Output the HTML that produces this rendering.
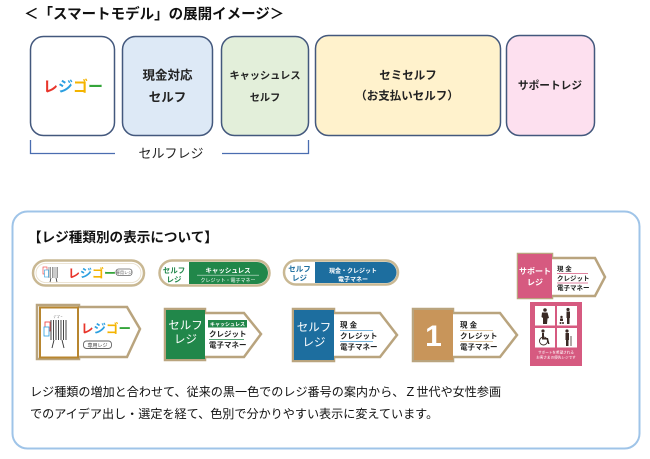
<!DOCTYPE html>
<html><head><meta charset="utf-8">
<style>
html,body{margin:0;padding:0;background:#fff;}
body{width:650px;height:459px;overflow:hidden;}
svg{display:block;}
text{font-family:"Liberation Sans","Noto Sans CJK JP",sans-serif;}
.b{font-weight:bold;}
</style></head>
<body>
<svg width="650" height="459" viewBox="0 0 650 459" xmlns="http://www.w3.org/2000/svg">
<!-- Title -->
<text x="24" y="19" font-size="14.5" class="b" fill="#111">＜「スマートモデル」の展開イメージ＞</text>

<!-- Top boxes -->
<rect x="30.5" y="36.5" width="84" height="99" rx="13" fill="#fff" stroke="#43587d" stroke-width="1.5"/>
<rect x="122.5" y="36.5" width="90" height="99" rx="13" fill="#dde9f6" stroke="#43587d" stroke-width="1.5"/>
<rect x="221.5" y="36.5" width="87" height="99" rx="13" fill="#e3efda" stroke="#43587d" stroke-width="1.5"/>
<rect x="315.5" y="35.5" width="185" height="100" rx="13" fill="#fff2cc" stroke="#43587d" stroke-width="1.5"/>
<rect x="506.5" y="35.5" width="88" height="100" rx="13" fill="#fde0ef" stroke="#43587d" stroke-width="1.5"/>

<text x="73" y="91.5" font-size="15" class="b" text-anchor="middle"><tspan fill="#e8352b">レ</tspan><tspan fill="#2b9fe0">ジ</tspan><tspan fill="#f4b400">ゴ</tspan><tspan fill="#34a53a">ー</tspan></text>
<text x="167.5" y="79.5" font-size="12.5" class="b" text-anchor="middle" fill="#222">現金対応</text>
<text x="167.5" y="101.5" font-size="12.5" class="b" text-anchor="middle" fill="#222">セルフ</text>
<text x="265" y="79" font-size="10.2" class="b" text-anchor="middle" fill="#222">キャッシュレス</text>
<text x="265" y="101" font-size="10.2" class="b" text-anchor="middle" fill="#222">セルフ</text>
<text x="408" y="79" font-size="11.5" class="b" text-anchor="middle" fill="#222">セミセルフ</text>
<text x="407" y="99.5" font-size="11.5" class="b" text-anchor="middle" fill="#222">（お支払いセルフ）</text>
<text x="550" y="89" font-size="10.7" class="b" text-anchor="middle" fill="#222">サポートレジ</text>

<!-- bracket -->
<path d="M30.5,140 V153.5 H115" fill="none" stroke="#4a6db0" stroke-width="1.3"/>
<path d="M222,153.5 H308.5 V140" fill="none" stroke="#4a6db0" stroke-width="1.3"/>
<text x="171" y="158" font-size="13" text-anchor="middle" fill="#222">セルフレジ</text>

<!-- Lower panel -->
<rect x="12.5" y="211.5" width="627" height="237" rx="15" fill="#fff" stroke="#9fc4e8" stroke-width="2"/>
<text x="28" y="242" font-size="13.6" class="b" fill="#111">【レジ種類別の表示について】</text>

<!-- Pill 1 -->
<rect x="33" y="260.5" width="111" height="25" rx="12.5" fill="#fff" stroke="#c9b893" stroke-width="2.5"/>
<rect x="36" y="263.5" width="105" height="19" rx="9.5" fill="none" stroke="#e6dcc6" stroke-width="0.8"/>
<g stroke="#333" stroke-width="0.5">
<path d="M49,267 V278 M50.5,267 V278 M52.5,267 V278 M54,267 V278 M56,267 V278 M57.5,267 V278"/>
<path d="M51,278 L50,282 M56,278 L57,282" stroke-width="0.8"/>
</g>
<rect x="43" y="267" width="4" height="7" fill="#fff" stroke="#e33" stroke-width="0.6"/>
<rect x="44.5" y="270" width="4" height="7" fill="#fff" stroke="#2b9fe0" stroke-width="0.6"/>
<text x="92" y="277.5" font-size="12" class="b" text-anchor="middle"><tspan fill="#e8352b">レ</tspan><tspan fill="#2b9fe0">ジ</tspan><tspan fill="#f4b400">ゴ</tspan><tspan fill="#34a53a">ー</tspan></text>
<rect x="116" y="269" width="16" height="6.5" rx="2.5" fill="#fff" stroke="#666" stroke-width="0.8"/>
<text x="124" y="274.2" font-size="4" text-anchor="middle" fill="#555">専用レジ</text>

<!-- Pill 2 -->
<rect x="159.5" y="260.5" width="110" height="25" rx="12.5" fill="#fff" stroke="#c9b893" stroke-width="2.5"/>
<path d="M189,262 H257 A11,11 0 0 1 257,284 H189 Z" fill="#21874a"/>
<text x="174" y="273" font-size="7.5" text-anchor="middle" fill="#21874a" class="b">セルフ</text>
<text x="174" y="282" font-size="7.5" text-anchor="middle" fill="#21874a" class="b">レジ</text>
<text x="228" y="272.5" font-size="6.5" text-anchor="middle" fill="#fff" class="b">キャッシュレス</text>
<path d="M197,275.2 H259" stroke="#cfe6d6" stroke-width="0.6"/>
<text x="228" y="282" font-size="5" text-anchor="middle" fill="#fff">クレジット・電子マネー</text>

<!-- Pill 3 -->
<rect x="284" y="260.5" width="114" height="24" rx="12" fill="#fff" stroke="#c9b893" stroke-width="2.5"/>
<path d="M315,262 H386 A10.5,10.5 0 0 1 386,283 H315 Z" fill="#1d6e9f"/>
<text x="299.5" y="271.5" font-size="7.5" text-anchor="middle" fill="#1d6e9f" class="b">セルフ</text>
<text x="299.5" y="280.5" font-size="7.5" text-anchor="middle" fill="#1d6e9f" class="b">レジ</text>
<text x="353" y="273" font-size="6" text-anchor="middle" fill="#fff" class="b">現金・クレジット</text>
<text x="353" y="281.5" font-size="6" text-anchor="middle" fill="#fff" class="b">電子マネー</text>

<!-- Support sign -->
<path d="M518,254 H552 V258 H595 L605,277 L595,296 H552 V298 H518 Z" fill="#fff" stroke="#b9a47e" stroke-width="2.5"/>
<rect x="518" y="254" width="34" height="44" fill="#d65a80"/>
<text x="535" y="274" font-size="8" text-anchor="middle" fill="#fff" class="b">サポート</text>
<text x="535" y="285" font-size="8" text-anchor="middle" fill="#fff" class="b">レジ</text>
<text x="557" y="271" font-size="6.5" fill="#222" class="b">現 金</text>
<path d="M557,273.5 H588" stroke="#d65a80" stroke-width="0.7"/>
<text x="557" y="280.5" font-size="6.5" fill="#222" class="b">クレジット</text>
<path d="M557,283 H588" stroke="#d65a80" stroke-width="0.7"/>
<text x="557" y="290" font-size="6.5" fill="#222" class="b">電子マネー</text>

<!-- Pictogram -->
<rect x="530" y="302" width="52" height="64" fill="#d65a80"/>
<rect x="535" y="306" width="20" height="19.5" fill="#fff"/>
<rect x="557" y="306" width="20" height="19.5" fill="#fff"/>
<rect x="535" y="328" width="20" height="19.5" fill="#fff"/>
<rect x="557" y="328" width="20" height="19.5" fill="#fff"/>
<g fill="#3a2a25">
<circle cx="545" cy="310" r="1.8"/><path d="M542,312.5 H547.5 L549,318 L547.5,318.5 L547,324 H543 L543,318 L541.5,317 Z"/>
<circle cx="568" cy="309.5" r="1.6"/><path d="M566.5,311.5 H570 V318 H569.5 V324 H567 V318 H566.5 Z"/>
<circle cx="561.5" cy="317" r="1.2"/><path d="M560,318.5 H563 V321 H560 Z"/><circle cx="560.5" cy="323" r="1"/><circle cx="563" cy="323" r="1"/>
<circle cx="543" cy="331" r="1.6"/><path d="M542,333 H544 V338 H548 L549.5,344 H548 L547,339.5 H542 Z"/>
<circle cx="567" cy="331" r="1.6"/><path d="M565.5,333 H569 V340 H568.5 V346 H566 V340 H565.5 Z"/>
</g>
<circle cx="543.5" cy="341" r="4" fill="none" stroke="#3a2a25" stroke-width="0.9"/>
<path d="M571,336 V346" stroke="#3a2a25" stroke-width="0.8"/>
<text x="556" y="353.5" font-size="3.6" text-anchor="middle" fill="#fff">サポートを希望される</text>
<text x="556" y="358.5" font-size="3.6" text-anchor="middle" fill="#fff">お客さまの優先レジです</text>

<!-- Sign 1: レジゴー -->
<path d="M37,305 H79 V307 H127 L140,329 L127,357 H79 V359 H37 Z" fill="#fff" stroke="#b9a47e" stroke-width="2.5"/>
<rect x="40" y="307.5" width="38" height="50" fill="#fff" stroke="#b8862f" stroke-width="2"/>
<g stroke="#333" stroke-width="0.9">
<path d="M51,320 V340 M53.5,320 V340 M56,320 V340 M58.5,320 V340 M61,320 V340 M63.5,320 V340 M66,320 V340"/>
<path d="M54,340 L52,348 M62,340 L64,348"/>
</g>
<rect x="45" y="322" width="5" height="9" fill="#fff" stroke="#e33" stroke-width="0.8"/>
<rect x="44" y="327" width="5" height="9" fill="#fff" stroke="#2b9fe0" stroke-width="0.8"/>
<text x="58" y="318" font-size="3.5" text-anchor="middle" fill="#333">ｼﾞｺﾞｰ</text>
<text x="106" y="333" font-size="12.5" class="b" text-anchor="middle"><tspan fill="#e8352b">レ</tspan><tspan fill="#2b9fe0">ジ</tspan><tspan fill="#f4b400">ゴ</tspan><tspan fill="#34a53a">ー</tspan></text>
<rect x="83.5" y="341" width="28" height="7.5" rx="3" fill="#fff" stroke="#666" stroke-width="0.9"/>
<text x="97.5" y="347" font-size="5" text-anchor="middle" fill="#444">専用レジ</text>

<!-- Sign 2: green -->
<path d="M165,309 H205 V313 H244 L261,334 L244,357 H205 V360 H165 Z" fill="#fff" stroke="#b9a47e" stroke-width="2.5"/>
<rect x="166" y="310" width="39" height="49" fill="#21874a"/>
<text x="185.5" y="329" font-size="11.5" text-anchor="middle" fill="#fff">セルフ</text>
<text x="185.5" y="343" font-size="11.5" text-anchor="middle" fill="#fff">レジ</text>
<rect x="208" y="320" width="39" height="7.5" fill="#21874a"/>
<text x="227.5" y="325.8" font-size="5" text-anchor="middle" fill="#fff" class="b">キャッシュレス</text>
<text x="209" y="336.5" font-size="7.5" fill="#222" class="b">クレジット</text>
<path d="M209,339.5 H244" stroke="#21874a" stroke-width="0.7"/>
<text x="209" y="347.5" font-size="7.5" fill="#222" class="b">電子マネー</text>

<!-- Sign 3: blue -->
<path d="M293,309 H334 V313 H380 L397,335 L380,357 H334 V361 H293 Z" fill="#fff" stroke="#b9a47e" stroke-width="2.5"/>
<rect x="294" y="310" width="40" height="50" fill="#1d6e9f"/>
<text x="314" y="331" font-size="11.5" text-anchor="middle" fill="#fff">セルフ</text>
<text x="314" y="346" font-size="11.5" text-anchor="middle" fill="#fff">レジ</text>
<text x="340" y="327.5" font-size="7.5" fill="#222" class="b">現 金</text>
<path d="M340,330.5 H373" stroke="#4a9bd0" stroke-width="0.8"/>
<text x="340" y="338.5" font-size="7.5" fill="#222" class="b">クレジット</text>
<path d="M340,341.5 H373" stroke="#4a9bd0" stroke-width="0.8"/>
<text x="340" y="349.5" font-size="7.5" fill="#222" class="b">電子マネー</text>

<!-- Sign 4: orange -->
<path d="M413,309 H453 V313 H500 L517,335 L500,357 H453 V361 H413 Z" fill="#fff" stroke="#b9a47e" stroke-width="2.5"/>
<rect x="414" y="310" width="39" height="50" fill="#c8955a"/>
<text x="433.5" y="346" font-size="30" text-anchor="middle" fill="#fff" class="b">1</text>
<text x="460" y="327.5" font-size="7.5" fill="#222" class="b">現 金</text>
<path d="M460,330.5 H493" stroke="#d9b98a" stroke-width="0.8"/>
<text x="460" y="338.5" font-size="7.5" fill="#222" class="b">クレジット</text>
<path d="M460,341.5 H493" stroke="#d9b98a" stroke-width="0.8"/>
<text x="460" y="349.5" font-size="7.5" fill="#222" class="b">電子マネー</text>

<!-- Body text -->
<text x="30" y="396" font-size="12.1" fill="#111">レジ種類の増加と合わせて、従来の黒一色でのレジ番号の案内から、Ｚ世代や女性参画</text>
<text x="30" y="418" font-size="12.1" fill="#111">でのアイデア出し・選定を経て、色別で分かりやすい表示に変えています。</text>
</svg>
</body></html>
